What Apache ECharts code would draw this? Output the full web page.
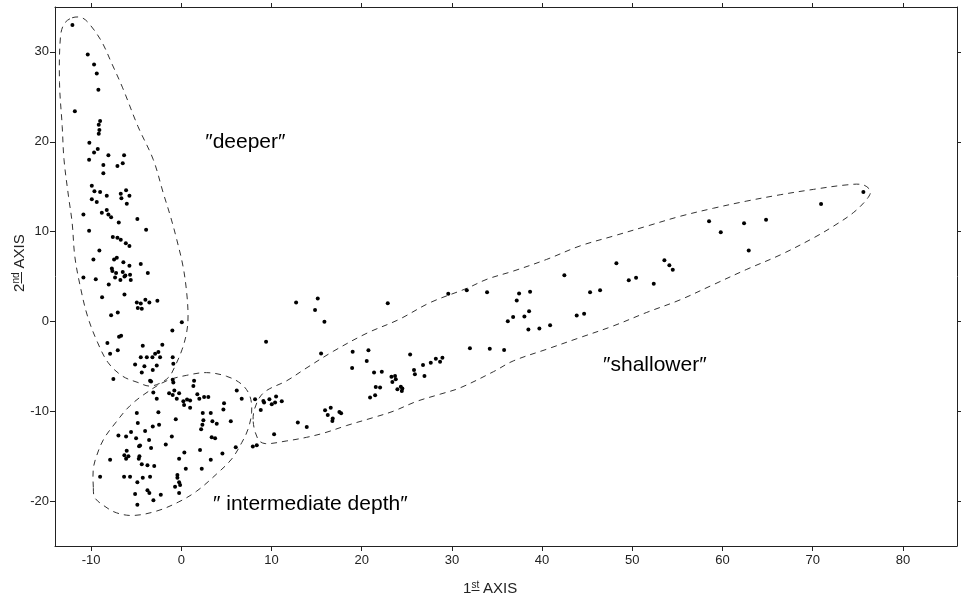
<!DOCTYPE html>
<html>
<head>
    <meta charset="utf-8">
    <title>1st / 2nd axis ordination</title>
    <script src="https://cdn.jsdelivr.net/npm/echarts@6/dist/echarts.min.js"></script>
    <style>
        html, body { margin: 0; padding: 0; background: #fff; }
        #chart1 { width: 963px; height: 603px; }
    </style>
</head>
<body>
<div id="chart1"></div>
<script>
    // tick values of the two axes
    var xTicks = [-10, 0, 10, 20, 30, 40, 50, 60, 70, 80];
    var yTicks = [-20, -10, 0, 10, 20, 30];

    // sample scores [1st axis, 2nd axis]
    var deeperPts = [
        [-12.07, 33.0], [-10.37, 29.7], [-9.67, 28.6], [-9.37, 27.6], [-9.19, 25.8], [-11.8, 23.4],
        [-9.0, 22.3], [-9.15, 21.9], [-9.08, 21.3], [-9.15, 20.9], [-10.19, 19.9], [-9.67, 18.8],
        [-9.26, 19.2], [-8.08, 18.5], [-6.34, 18.5], [-10.22, 18.0], [-8.64, 17.4], [-8.64, 16.5],
        [-7.08, 17.3], [-6.49, 17.6], [-9.92, 15.1], [-9.63, 14.5], [-9.0, 14.4], [-8.26, 14.0],
        [-6.71, 14.2], [-6.64, 13.7], [-6.12, 14.6], [-5.75, 14.0], [-9.92, 13.6], [-9.37, 13.3],
        [-6.04, 13.1], [-10.85, 11.9], [-8.81, 12.1], [-8.26, 12.4], [-8.08, 11.9], [-7.78, 11.6],
        [-6.93, 11.0], [-4.87, 11.4], [-10.22, 10.1], [-3.9, 10.2], [-7.59, 9.4], [-7.08, 9.3],
        [-6.71, 9.1], [-6.15, 8.7], [-5.75, 8.4], [-9.08, 7.9], [-9.74, 6.9], [-7.45, 6.9],
        [-7.15, 7.1], [-6.42, 6.6], [-5.75, 6.2], [-4.49, 6.4], [-7.7, 5.9], [-7.64, 5.6],
        [-7.23, 5.4], [-6.49, 5.5], [-6.2, 5.1], [-6.3, 5.0], [-5.68, 5.2], [-3.71, 5.4],
        [-10.85, 4.9], [-9.48, 4.7], [-7.34, 4.9], [-6.75, 4.6], [-5.6, 4.6], [-8.04, 4.1],
        [-6.3, 3.0], [-8.78, 2.7], [-4.93, 2.1], [-4.49, 2.0], [-4.82, 1.5], [-4.38, 1.4],
        [-3.98, 2.4], [-3.54, 2.1], [-2.65, 2.3], [-7.78, 0.7], [-7.04, 1.0], [0.06, -0.1],
        [-0.99, -1.0], [-6.67, -1.6], [-6.9, -1.7], [-8.19, -2.4], [-7.04, -3.2], [-7.89, -3.6],
        [-4.27, -2.7], [-2.1, -2.6], [-2.9, -3.6], [-2.54, -3.4], [-2.35, -4.0], [-4.49, -4.0],
        [-3.82, -4.0], [-3.2, -4.0], [-0.95, -4.0], [-5.12, -4.8], [-4.09, -5.0], [-2.72, -4.9],
        [-0.88, -4.7], [-4.38, -5.7], [-3.16, -5.4], [-7.53, -6.4], [-3.46, -6.6], [-3.35, -6.7]
    ];
    var intermediatePts = [
        [-0.95, -6.5], [-0.88, -6.8], [1.42, -6.6], [1.34, -7.2], [-3.1, -7.9], [-2.72, -8.6],
        [-1.35, -8.0], [-0.95, -8.2], [-0.77, -7.7], [-0.24, -8.0], [-0.5, -8.6], [0.23, -8.9],
        [0.64, -8.7], [0.98, -8.8], [0.98, -9.6], [0.31, -9.3], [1.78, -8.1], [2.0, -8.6],
        [2.53, -8.4], [3.0, -8.4], [6.15, -7.7], [6.7, -8.6], [4.74, -9.1], [4.67, -9.8],
        [-4.93, -10.2], [-2.54, -10.1], [2.38, -10.2], [3.27, -10.2], [-0.61, -10.9], [-4.82, -11.3],
        [2.45, -11.0], [2.34, -11.5], [2.2, -12.0], [3.45, -11.1], [3.93, -11.4], [5.49, -11.1],
        [-2.46, -11.5], [-3.16, -11.7], [-4.01, -12.2], [-5.57, -12.3], [-6.97, -12.7], [-6.12, -12.8],
        [-5.01, -13.0], [-3.57, -13.2], [-1.05, -12.8], [3.37, -12.9], [3.75, -13.0], [-4.57, -13.8],
        [-4.68, -13.9], [-3.35, -14.1], [-1.72, -13.7], [2.08, -14.3], [6.04, -14.0], [-6.05, -14.4],
        [-6.31, -14.9], [-5.86, -15.0], [-6.12, -15.3], [-4.64, -15.0], [-4.71, -15.3], [0.34, -14.6],
        [4.56, -14.7], [-7.89, -15.4], [-0.24, -15.3], [3.27, -15.4], [-4.38, -15.9], [-3.75, -16.0],
        [-3.0, -16.1], [0.5, -16.4], [2.27, -16.4], [-0.43, -17.1], [-0.43, -17.4], [-9.0, -17.3],
        [-6.34, -17.3], [-5.68, -17.3], [-4.87, -17.9], [-4.27, -17.4], [-3.46, -17.3], [-0.24, -17.9],
        [-0.13, -18.2], [-0.69, -18.4], [-3.75, -18.8], [-3.54, -19.1], [-3.09, -19.9], [-5.12, -19.2],
        [-4.87, -20.4], [-2.27, -19.3], [-0.24, -19.1]
    ];
    var shallowerPts = [
        [12.73, 2.11], [15.13, 2.56], [14.83, 1.26], [15.87, -0.04], [22.89, 2.03], [9.4, -2.26],
        [15.5, -3.56], [19.0, -3.37], [20.75, -3.22], [20.56, -4.41], [18.94, -5.19], [25.37, -3.67],
        [21.37, -5.7], [22.23, -5.6], [23.3, -6.15], [23.7, -6.08], [23.78, -6.44], [23.4, -6.74],
        [25.8, -5.41], [25.9, -5.89], [26.96, -6.08], [26.8, -4.85], [27.66, -4.59], [28.22, -4.15],
        [28.69, -4.48], [28.95, -4.04], [21.56, -7.3], [22.04, -7.37], [20.93, -8.48], [21.49, -8.22],
        [23.96, -7.56], [24.34, -7.26], [24.45, -7.74], [24.51, -7.48], [32.0, -3.0], [34.2, -3.03],
        [35.79, -3.19], [29.6, 3.08], [31.65, 3.48], [33.9, 3.26], [8.18, -8.67], [9.1, -8.86],
        [9.18, -9.03], [9.77, -8.67], [10.51, -8.37], [10.03, -9.22], [10.4, -9.03], [11.14, -8.89],
        [8.81, -9.86], [15.94, -9.9], [16.57, -9.6], [16.24, -10.41], [16.79, -10.81], [16.75, -11.08],
        [17.53, -10.08], [17.72, -10.22], [12.92, -11.26], [13.91, -11.74], [10.29, -12.56], [7.93, -13.92],
        [8.37, -13.78], [75.62, 14.41], [70.93, 13.08], [58.51, 11.15], [59.81, 9.93], [62.39, 10.92],
        [64.83, 11.33], [62.91, 7.89], [48.24, 6.48], [53.56, 6.81], [54.11, 6.26], [54.49, 5.74],
        [49.61, 4.59], [50.42, 4.86], [52.38, 4.19], [42.47, 5.14], [45.32, 3.26], [46.43, 3.48],
        [37.45, 3.11], [38.67, 3.3], [37.19, 2.33], [36.2, 0.03], [36.79, 0.48], [38.04, 0.56],
        [38.56, 1.14], [38.48, -0.89], [39.7, -0.78], [40.89, -0.44], [43.84, 0.67], [44.66, 0.86]
    ];

    // hand-drawn group outlines, traced in axis units
    var deeperOutline = [
        [-12.1, 33.8], [-11.0, 33.8], [-10.1, 33.0], [-8.8, 31.1], [-7.7, 28.7], [-6.5, 26.0],
        [-4.8, 21.7], [-3.1, 18.0], [-2.0, 14.3], [-1.2, 11.7], [-0.5, 9.1], [0.2, 6.1],
        [0.6, 3.2], [0.75, 0.6], [0.6, -1.2], [0.1, -3.1], [-0.7, -5.0], [-1.3, -6.1],
        [-2.2, -6.8], [-3.5, -7.2], [-4.8, -6.8], [-6.5, -6.1], [-8.1, -4.6], [-9.3, -2.3],
        [-10.4, 0.6], [-11.2, 3.9], [-11.8, 7.2], [-12.1, 11.0], [-12.5, 13.9], [-13.0, 18.0],
        [-13.2, 21.7], [-13.5, 26.6], [-13.4, 31.6], [-13.0, 33.1]
    ];
    var intermediateOutline = [
        [-9.75, -18.5], [-9.75, -16.4], [-9.4, -15.0], [-8.6, -13.1], [-7.3, -11.3], [-5.7, -9.4],
        [-3.8, -7.9], [-1.6, -6.6], [0.6, -6.0], [2.8, -5.7], [5.0, -6.1], [6.7, -7.0],
        [7.6, -8.3], [7.8, -10.1], [7.4, -12.0], [6.7, -13.5], [5.6, -15.3], [3.9, -17.0],
        [1.7, -18.9], [-0.3, -20.1], [-2.7, -21.1], [-5.3, -21.6], [-7.2, -21.3], [-8.6, -20.5],
        [-9.6, -19.6]
    ];
    var shallowerOutline = [
        [7.96, -10.9], [8.4, -9.0], [9.3, -7.8], [11.7, -6.6], [13.7, -5.3], [16.9, -3.3],
        [20.6, -1.3], [24.1, 0.2], [27.6, 2.1], [31.7, 3.7], [33.9, 4.7], [36.8, 5.6],
        [40.5, 6.9], [44.2, 8.4], [47.9, 9.5], [51.6, 10.6], [55.3, 11.7], [59.0, 12.6],
        [62.7, 13.4], [66.4, 14.1], [70.1, 14.7], [73.8, 15.2], [75.6, 15.2], [76.4, 14.5],
        [76.0, 13.6], [74.5, 12.1], [72.3, 10.6], [70.1, 9.3], [66.4, 7.4], [62.7, 5.8],
        [59.0, 4.1], [55.3, 2.4], [51.6, 1.0], [47.9, -0.5], [44.2, -1.8], [40.5, -3.1],
        [36.8, -4.4], [34.6, -5.6], [30.9, -7.4], [28.7, -8.1], [26.1, -8.9], [23.5, -10.0],
        [21.3, -10.7], [18.3, -11.6], [15.9, -12.4], [13.9, -12.9], [11.7, -13.3], [9.3, -13.6],
        [8.5, -13.1]
    ];

    // group names and where they sit
    var groupNames = ['\u2033deeper\u2033', '\u2033shallower\u2033', '\u2033 intermediate depth\u2033'];
    var groupNamePos = [[7.1, 20.0], [52.5, -4.9], [14.3, -20.3]];

    var myChart1 = echarts.init(document.getElementById('chart1'));

    var axisColor = '#222';
    var font = 'Liberation Sans, Arial, Helvetica, sans-serif';

    // dashed outline drawn through the cartesian coordinates
    function outlineSeries(pts) {
        return {
            type: 'custom',
            silent: true,
            data: [[0, 0]],
            z: 1,
            renderItem: function (params, api) {
                return {
                    type: 'polygon',
                    shape: {
                        points: pts.map(function (p) { return api.coord(p); }),
                        smooth: 0.35
                    },
                    style: { fill: 'none', stroke: '#333', lineWidth: 1, lineDash: [6, 5] }
                };
            }
        };
    }

    function dotSeries(pts) {
        return {
            type: 'scatter',
            silent: true,
            data: pts,
            symbolSize: 4,
            itemStyle: { color: '#000', opacity: 1 },
            z: 3
        };
    }

    function sideAxis(pos, ticks, mn, mx) {
        return {
            type: 'value',
            position: pos,
            min: mn,
            max: mx,
            axisLine: { show: true, onZero: false, lineStyle: { color: axisColor, width: 1 } },
            axisTick: { show: true, length: 4, customValues: ticks, lineStyle: { color: axisColor } },
            axisLabel: { show: false },
            splitLine: { show: false }
        };
    }

    // "1st AXIS" style title with underlined superscript
    function axisTitle(num, sup, x, y, rot, supW) {
        var big = 15, small = 10;
        return {
            type: 'group',
            x: x,
            y: y,
            rotation: rot,
            silent: true,
            children: [
                { type: 'text', x: 0, y: 0, style: { text: num, fontSize: big, fontFamily: font, fill: axisColor, verticalAlign: 'bottom' } },
                { type: 'text', x: 8.5, y: -6, style: { text: sup, fontSize: small, fontFamily: font, fill: axisColor, verticalAlign: 'bottom' } },
                { type: 'line', shape: { x1: 8.5, y1: -5.5, x2: 8.5 + supW, y2: -5.5 }, style: { stroke: axisColor, lineWidth: 1 } },
                { type: 'text', x: 12 + supW, y: 0, style: { text: 'AXIS', fontSize: big, fontFamily: font, fill: axisColor, verticalAlign: 'bottom' } }
            ]
        };
    }

    myChart1.setOption({
        animation: false,
        backgroundColor: '#fff',
        grid: { left: 55, right: 6, top: 7, bottom: 57, outerBoundsMode: 'none' },
        xAxis: [{
            type: 'value',
            position: 'bottom',
            min: -14,
            max: 86,
            axisLine: { show: true, onZero: false, lineStyle: { color: axisColor, width: 1 } },
            axisTick: { show: true, length: 5, customValues: xTicks, lineStyle: { color: axisColor } },
            axisLabel: { customValues: xTicks, margin: 8, color: axisColor, fontSize: 13, fontFamily: font },
            splitLine: { show: false }
        }, sideAxis('top', xTicks, -14, 86)],
        yAxis: [{
            type: 'value',
            position: 'left',
            min: -25,
            max: 35,
            axisLine: { show: true, onZero: false, lineStyle: { color: axisColor, width: 1 } },
            axisTick: { show: true, length: 5, customValues: yTicks, lineStyle: { color: axisColor } },
            axisLabel: { customValues: yTicks, margin: 6, color: axisColor, fontSize: 13, fontFamily: font },
            splitLine: { show: false }
        }, sideAxis('right', yTicks, -25, 35)],
        graphic: [
            axisTitle('1', 'st', 463, 596, 0, 8),
            axisTitle('2', 'nd', 27, 292, Math.PI / 2, 11.5)
        ],
        series: [
            outlineSeries(deeperOutline),
            outlineSeries(intermediateOutline),
            outlineSeries(shallowerOutline),
            dotSeries(deeperPts),
            dotSeries(intermediatePts),
            dotSeries(shallowerPts),
            {
                type: 'scatter',
                silent: true,
                symbolSize: 0,
                z: 4,
                itemStyle: { opacity: 1 },
                data: groupNames.map(function (n, i) { return { name: n, value: groupNamePos[i] }; }),
                label: {
                    show: true,
                    position: 'inside',
                    formatter: function (p) { return p.name; },
                    color: '#000',
                    opacity: 1,
                    fontSize: 21,
                    fontFamily: font
                }
            }
        ]
    });
</script>
</body>
</html>
